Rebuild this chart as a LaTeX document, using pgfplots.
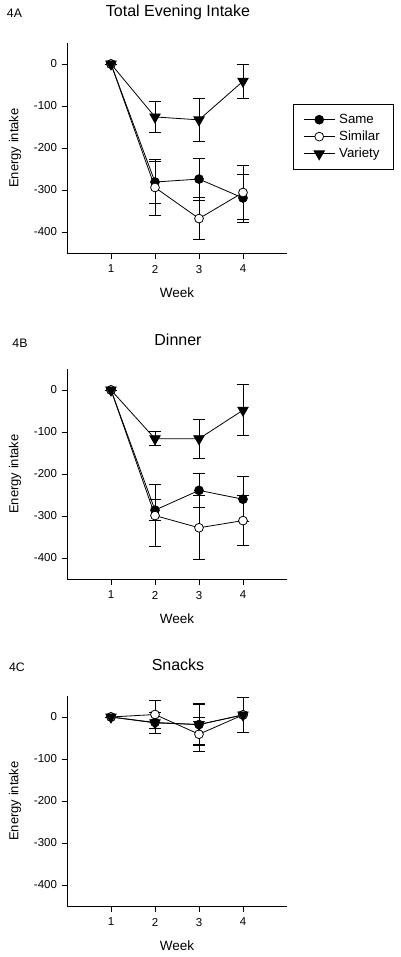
\documentclass[border=0pt]{standalone}
\usepackage{fontspec}
\setmainfont{Liberation Sans}
\setsansfont{Liberation Sans}
\usepackage{pgfplots}
\pgfplotsset{compat=1.18}
\begin{document}
\begin{tikzpicture}
\path[use as bounding box] (0pt,0pt) rectangle (400pt,-957pt);
\pgfplotsset{
  panel/.style={
    scale only axis, width=220pt, height=210pt,
    xmin=0, xmax=5, ymin=-450, ymax=50,
    axis x line*=bottom, axis y line*=left,
    axis line style={line width=0.8pt, -},
    tick align=outside, tick style={line width=0.8pt, black},
    major tick length=5.5pt,
    xtick={1,2,3,4}, xticklabels={1,2,3,4},
    ytick={-400,-300,-200,-100,0}, yticklabels={-400,-300,-200,-100,0},
    ticklabel style={font=\fontsize{11.5}{13}\selectfont},
    xticklabel style={yshift=-3pt},
    yticklabel style={xshift=-1pt},
    xlabel={Week}, ylabel={Energy intake},
    xlabel style={font=\fontsize{13.5}{16}\selectfont, at={(axis description cs:0.5,-0.19)}, anchor=center},
    ylabel style={font=\fontsize{13}{15}\selectfont, at={(axis description cs:-0.236,0.5)}, anchor=center},
    every axis plot/.append style={line width=0.8pt, black},
    error bars/error bar style={line width=0.8pt, solid},
    error bars/error mark options={mark size=6pt, line width=0.8pt, rotate=90},
    clip=false,
  },
  same/.style={mark=*, mark size=4.4pt, mark options={fill=black, draw=black}},
  similar/.style={mark=*, mark size=4.4pt, mark options={fill=white, draw=black}},
  variety/.style={mark=triangle*, mark size=6pt, mark options={fill=black, draw=black, rotate=180}},
  eb/.style={error bars/.cd, y dir=both, y explicit},
}
% ---------------- Panel A ----------------
\node[anchor=base, font=\fontsize{12.3}{14}\selectfont] at (14.5pt,-17.5pt) {4A};
\node[anchor=base, font=\fontsize{16}{19}\selectfont] at (178pt,-17pt) {Total Evening Intake};
\begin{axis}[panel, at={(67pt,-253pt)}, anchor=south west,
  legend style={at={(1.027,0.71)}, anchor=north west, draw=black, line width=0.8pt,
    font=\fontsize{13.3}{15}\selectfont, inner xsep=10pt, inner ysep=8pt, row sep=2pt,
    nodes={inner xsep=4pt}},
  legend cell align=left,
  legend image code/.code={\draw[mark repeat=2,mark phase=2,#1] plot coordinates {(0pt,0pt)(15.5pt,0pt)(31pt,0pt)};},
]
\addplot[same, eb] coordinates {(1,0) +- (0,0) (2,-281) +- (0,50) (3,-274) +- (0,50) (4,-319) +- (0,57)};
\addplot[similar, eb] coordinates {(1,0) +- (0,0) (2,-294) +- (0,66) (3,-368) +- (0,50) (4,-306) +- (0,64)};
\addplot[variety, eb] coordinates {(1,0) +- (0,0) (2,-126) +- (0,37) (3,-133) +- (0,52) (4,-41) +- (0,41)};
\legend{Same, Similar, Variety}
\end{axis}
% ---------------- Panel B ----------------
\node[anchor=base, font=\fontsize{12.3}{14}\selectfont] at (20pt,-347.5pt) {4B};
\node[anchor=base, font=\fontsize{16}{19}\selectfont] at (178pt,-345pt) {Dinner};
\begin{axis}[panel, at={(67pt,-579pt)}, anchor=south west]
\addplot[same, eb] coordinates {(1,0) +- (0,0) (2,-286) +- (0,25) (3,-239) +- (0,40) (4,-260) +- (0,54)};
\addplot[similar, eb] coordinates {(1,0) +- (0,0) (2,-299) +- (0,74) (3,-328) +- (0,76) (4,-311) +- (0,60)};
\addplot[variety, eb] coordinates {(1,0) +- (0,0) (2,-116) +- (0,17) (3,-116) +- (0,46) (4,-48) +- (0,61)};
\end{axis}
% ---------------- Panel C ----------------
\node[anchor=base, font=\fontsize{12.3}{14}\selectfont] at (17pt,-671pt) {4C};
\node[anchor=base, font=\fontsize{16}{19}\selectfont] at (178pt,-670pt) {Snacks};
\begin{axis}[panel, at={(67pt,-906pt)}, anchor=south west]
\addplot[same, eb] coordinates {(1,0) +- (0,0) (2,-13) +- (0,25) (3,-18) +- (0,48) (4,5) +- (0,42)};
\addplot[similar, eb] coordinates {(1,0) +- (0,0) (2,6) +- (0,33) (3,-41) +- (0,41) (4,5) +- (0,42)};
\addplot[variety, eb] coordinates {(1,0) +- (0,0) (2,-14) +- (0,26) (3,-18) +- (0,50) (4,5) +- (0,42)};
\end{axis}
\end{tikzpicture}
\end{document}
